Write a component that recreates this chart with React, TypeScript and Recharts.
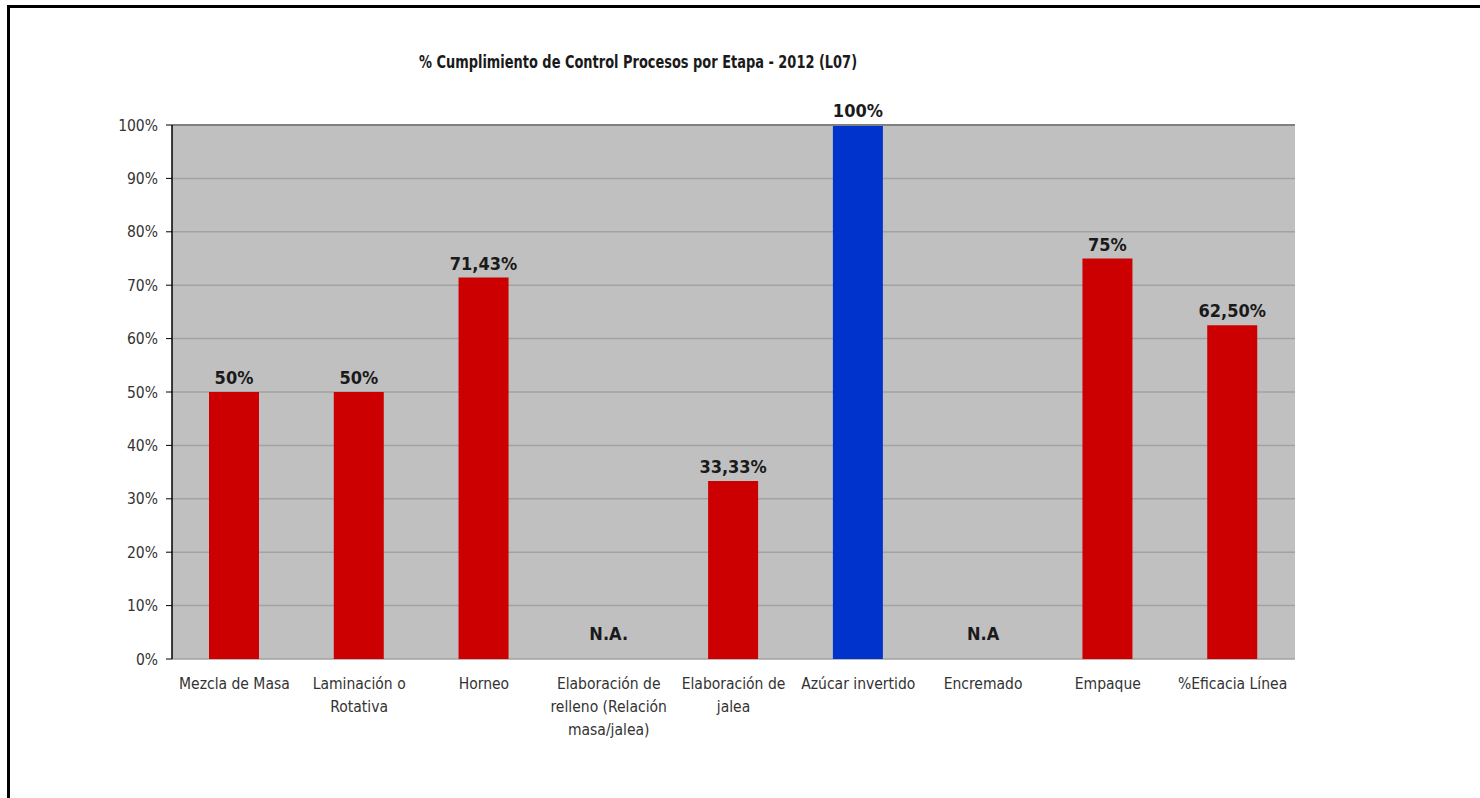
import React from 'react';
import {
  BarChart,
  Bar,
  XAxis,
  YAxis,
  CartesianGrid,
  Cell,
  LabelList,
  ReferenceLine,
} from 'recharts';

const categories: string[] = [
  'Mezcla de Masa',
  'Laminación o\nRotativa',
  'Horneo',
  'Elaboración de\nrelleno (Relación\nmasa/jalea)',
  'Elaboración de\njalea',
  'Azúcar invertido',
  'Encremado',
  'Empaque',
  '%Eficacia Línea',
];
const values: number[] = [50, 50, 71.43, 0, 33.33, 100, 0, 75, 62.5];
const valueLabels: string[] = ['50%', '50%', '71,43%', 'N.A.', '33,33%', '100%', 'N.A', '75%', '62,50%'];
const barColors: string[] = ['#CC0000', '#CC0000', '#CC0000', '#CC0000', '#CC0000', '#0033CC', '#CC0000', '#CC0000', '#CC0000'];
const yTicks: number[] = [0, 10, 20, 30, 40, 50, 60, 70, 80, 90, 100];
const boundaryTicks: number[] = [0, 1, 2, 3, 4, 5, 6, 7, 8, 9];
const title = '% Cumplimiento de Control Procesos por Etapa - 2012 (L07)';

const data = categories.map((c, i) => ({ name: c, value: values[i], label: valueLabels[i] }));

const FONT = "'Liberation Sans Narrow', 'Arial Narrow', 'DejaVu Sans Condensed', sans-serif";

const CategoryTick = (props: any) => {
  const { x, y, payload, index } = props;
  const lines = String(payload.value).split('\n');
  const lbl = valueLabels[index];
  const isNA = lbl && lbl.startsWith('N.A');
  return (
    <g>
      {isNA && (
        <text
          x={x}
          y={y - 27}
          textAnchor="middle"
          fill="#1a1a1a"
          fontFamily={FONT}
          fontWeight="bold"
          fontSize={18}
        >
          {lbl}
        </text>
      )}
      <text x={x} y={y} textAnchor="middle" fill="#333" fontFamily={FONT} fontSize={15.5}>
        {lines.map((l, i) => (
          <tspan key={i} x={x} dy={i === 0 ? 22 : 23}>
            {l}
          </tspan>
        ))}
      </text>
    </g>
  );
};

const ValueLabel = (props: any) => {
  const { x, y, width, value } = props;
  const text = String(value);
  if (text.startsWith('N.A')) return null;
  return (
    <text
      x={x + width / 2}
      y={y - 8}
      textAnchor="middle"
      fill="#1a1a1a"
      fontFamily={FONT}
      fontWeight="bold"
      fontSize={18}
    >
      {text}
    </text>
  );
};

export default function App() {
  return (
    <div style={{ position: 'absolute', left: 0, top: 0, width: 1480, height: 798, background: '#fff', overflow: 'hidden' }}>
      <div
        style={{
          position: 'absolute',
          left: 7,
          top: 5,
          width: 1480,
          height: 800,
          border: '3px solid #000',
          boxSizing: 'border-box',
        }}
      />
      <div
        style={{
          position: 'absolute',
          left: 338,
          width: 600,
          top: 51,
          textAlign: 'center',
          fontFamily: FONT,
          fontWeight: 'bold',
          fontSize: 18,
          color: '#1a1a1a',
          whiteSpace: 'nowrap',
          transform: 'scaleX(0.8)',
          transformOrigin: '300px 50%',
        }}
      >
        {title}
      </div>
      <div style={{ position: 'absolute', left: 0, top: 0 }}>
        <BarChart
          width={1480}
          height={798}
          data={data}
          margin={{ top: 125, right: 185, left: 112, bottom: 59 }}
          barCategoryGap={0}
        >
          <CartesianGrid vertical={false} fill="#C0C0C0" stroke="#A2A2A2" strokeWidth={1.5} fillOpacity={1} />
          <XAxis
            xAxisId="b"
            type="number"
            domain={[0, 9]}
            ticks={boundaryTicks}
            interval={0}
            tickFormatter={() => ''}
            tickSize={6}
            tickLine={{ stroke: '#000' }}
            axisLine={{ stroke: '#000', strokeWidth: 1.5 }}
            height={0}
            allowDataOverflow
          />
          <XAxis
            dataKey="name"
            interval={0}
            tickLine={false}
            axisLine={false}
            tick={<CategoryTick />}
            height={80}
          />
          <YAxis
            domain={[0, 100]}
            ticks={yTicks}
            interval={0}
            tickFormatter={(v: number) => `${v}%`}
            width={60}
            tickMargin={8}
            tick={{ fill: '#333', fontFamily: FONT, fontSize: 15.5 }}
            tickLine={{ stroke: '#000' }}
            axisLine={{ stroke: '#000', strokeWidth: 1.5 }}
          />
          <ReferenceLine y={100} stroke="#808080" strokeWidth={2} />
          <ReferenceLine xAxisId="b" x={9} stroke="#808080" strokeWidth={2} />
          <Bar dataKey="value" barSize={50} isAnimationActive={false}>
            {data.map((d, i) => (
              <Cell key={i} fill={barColors[i]} />
            ))}
            <LabelList dataKey="label" content={<ValueLabel />} />
          </Bar>
        </BarChart>
      </div>
    </div>
  );
}
